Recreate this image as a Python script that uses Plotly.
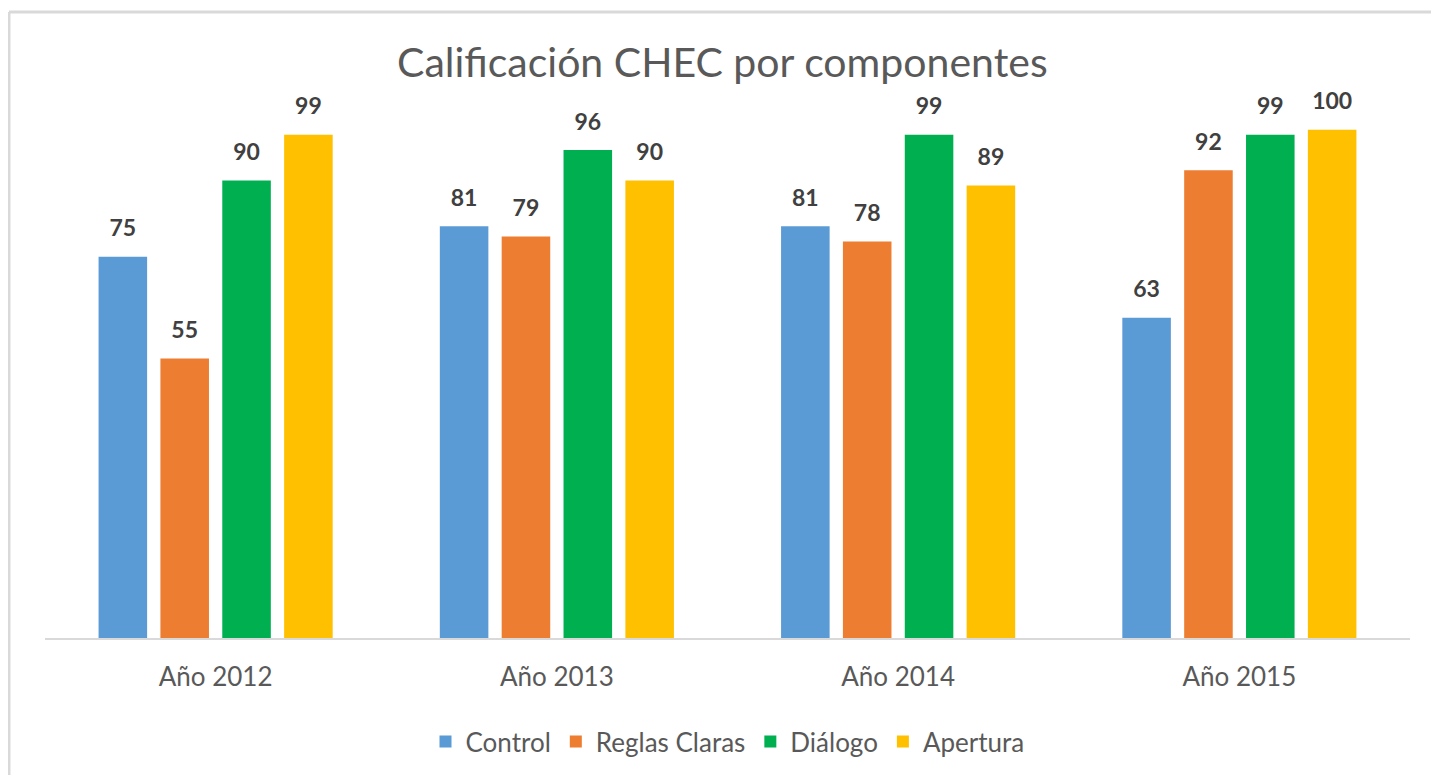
import plotly.graph_objects as go

categories = ["Año 2012", "Año 2013", "Año 2014", "Año 2015"]
control = [75, 81, 81, 63]
reglas_claras = [55, 79, 78, 92]
dialogo = [90, 96, 99, 99]
apertura = [99, 90, 89, 100]

series = [
    ("Control", control, "#5B9BD5"),
    ("Reglas Claras", reglas_claras, "#ED7D31"),
    ("Diálogo", dialogo, "#00B050"),
    ("Apertura", apertura, "#FFC000"),
]

FONT = "Lato, 'Open Sans', sans-serif"

fig = go.Figure()
for name, vals, color in series:
    fig.add_trace(go.Bar(
        x=categories, y=vals, name=name,
        marker=dict(color=color, line=dict(width=0)),
    ))
for name, vals, color in series:
    fig.add_trace(go.Scatter(
        x=categories, y=vals, name=name, mode="markers+text",
        text=[str(v) for v in vals], textposition="top center",
        marker=dict(size=22, opacity=0),
        textfont=dict(family=FONT, size=23, color="#404040", weight="bold"),
        showlegend=False, cliponaxis=False, hoverinfo="skip",
    ))

border = dict(color="#D9D9D9", width=3)

fig.update_layout(
    width=1423, height=767,
    margin=dict(l=37, r=21, t=20, b=137, autoexpand=False),
    paper_bgcolor="white", plot_bgcolor="white",
    barmode="group", bargap=0.275, bargroupgap=0.215,
    scattermode="group", scattergap=0.275,
    title=dict(text="Calificación CHEC por componentes",
               x=0.502, xanchor="center", y=0.9286, yanchor="middle",
               font=dict(family=FONT, size=41, color="#595959")),
    xaxis=dict(showline=True, linecolor="#D9D9D9", linewidth=2,
               ticks="outside", ticklen=15, tickcolor="rgba(0,0,0,0)",
               tickfont=dict(family=FONT, size=26, color="#595959")),
    yaxis=dict(range=[0, 120], visible=False, showgrid=False),
    legend=dict(orientation="h", x=0.5, xanchor="center", y=-0.17, yanchor="middle",
                font=dict(family=FONT, size=26, color="#595959"),
                itemwidth=30, traceorder="normal"),
    showlegend=True,
    shapes=[
        dict(type="line", xref="paper", yref="paper",
             x0=-0.0264, x1=1.1, y0=1.0262, y1=1.0262, line=border, layer="below"),
        dict(type="line", xref="paper", yref="paper",
             x0=-0.0264, x1=-0.0264, y0=-0.4, y1=1.0262, line=border, layer="below"),
    ],
)

fig.write_html("out.html")
